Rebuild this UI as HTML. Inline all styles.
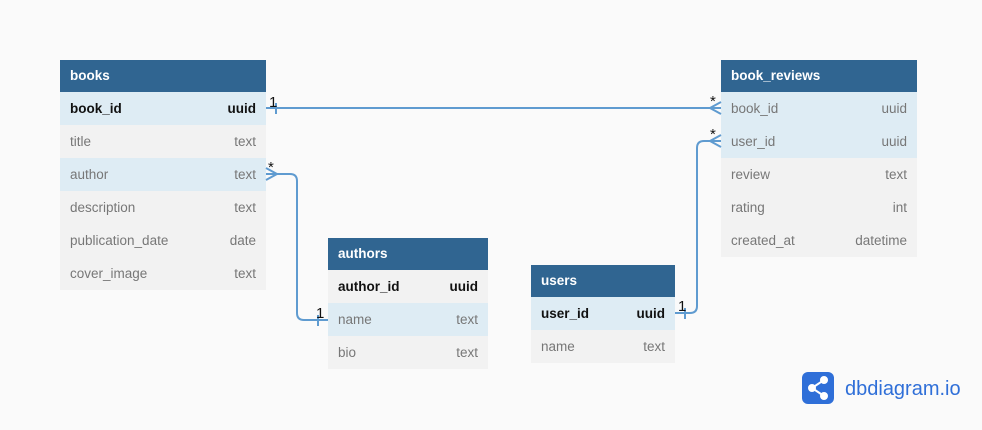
<!DOCTYPE html>
<html><head><meta charset="utf-8"><style>
body{margin:0;width:982px;height:430px;background:#fafafa;font-family:"Liberation Sans","DejaVu Sans",sans-serif;position:relative;overflow:hidden}
.t{position:absolute}
.h{height:32px;background:#306591;color:#fff;font-weight:bold;font-size:13.5px;line-height:31px;padding-left:10px}
.r{height:33px;line-height:34px;font-size:13.5px;color:#777;padding:0 10px;display:flex;justify-content:space-between;background:#f2f2f2}
.b{background:#deecf4}
.k{font-weight:bold;color:#111}
svg{position:absolute;left:0;top:0}
.lab{font:15px "Liberation Sans",sans-serif;fill:#111}
</style></head><body>
<div class="t" style="left:60px;top:60px;width:206px">
<div class="h">books</div>
<div class="r b k"><span>book_id</span><span>uuid</span></div>
<div class="r"><span>title</span><span>text</span></div>
<div class="r b"><span>author</span><span>text</span></div>
<div class="r"><span>description</span><span>text</span></div>
<div class="r"><span>publication_date</span><span>date</span></div>
<div class="r"><span>cover_image</span><span>text</span></div>
</div>
<div class="t" style="left:721px;top:60px;width:196px">
<div class="h">book_reviews</div>
<div class="r b"><span>book_id</span><span>uuid</span></div>
<div class="r b"><span>user_id</span><span>uuid</span></div>
<div class="r"><span>review</span><span>text</span></div>
<div class="r"><span>rating</span><span>int</span></div>
<div class="r"><span>created_at</span><span>datetime</span></div>
</div>
<div class="t" style="left:328px;top:238px;width:160px">
<div class="h">authors</div>
<div class="r k"><span>author_id</span><span>uuid</span></div>
<div class="r b"><span>name</span><span>text</span></div>
<div class="r"><span>bio</span><span>text</span></div>
</div>
<div class="t" style="left:531px;top:265px;width:144px">
<div class="h">users</div>
<div class="r b k"><span>user_id</span><span>uuid</span></div>
<div class="r"><span>name</span><span>text</span></div>
</div>
<svg width="982" height="430">
<g stroke="#5f9bd0" stroke-width="2" fill="none">
<path d="M266 108H721"/><path d="M276 103V114"/><path d="M721 102L710 108L721 114"/>
<path d="M266 174H290Q297 174 297 181V313Q297 320 304 320H328"/><path d="M266 168L277 174L266 180"/><path d="M318 315V326"/>
<path d="M675 313H690Q697 313 697 306V148Q697 141 704 141H721"/><path d="M721 135L710 141L721 147"/><path d="M685 308V319"/>
</g>
<text class="lab" x="269" y="107">1</text>
<text class="lab" x="710" y="106">*</text>
<text class="lab" x="268" y="172">*</text>
<text class="lab" x="316" y="318">1</text>
<text class="lab" x="678" y="311">1</text>
<text class="lab" x="710" y="139">*</text>
<rect x="802" y="372" width="32" height="32" rx="6" fill="#2f6fd8"/>
<g stroke="#fff" stroke-width="2" fill="#fff"><path d="M812 388L824 380M812 388L824 396" fill="none"/><circle cx="812" cy="388" r="3"/><circle cx="824" cy="380" r="3"/><circle cx="824" cy="396" r="3"/></g>
<text x="845" y="395" style="font:20px 'Liberation Sans',sans-serif;fill:#2f6fd8">dbdiagram.io</text>
</svg>
</body></html>
